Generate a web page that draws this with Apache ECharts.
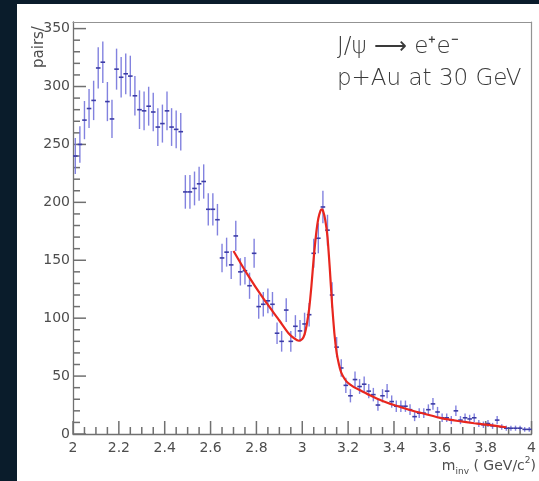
<!DOCTYPE html>
<html>
<head>
<meta charset="utf-8">
<script src="https://cdn.jsdelivr.net/npm/echarts@6/dist/echarts.min.js"></script>
<style>
  html, body { margin: 0; padding: 0; width: 539px; height: 481px; overflow: hidden; background: #0a1c2b; }
  #chart { position: absolute; left: 17px; top: 4px; width: 522px; height: 477px; background: #ffffff; }
</style>
</head>
<body>
<div id="chart"></div>
<script>
// Invariant-mass bin centres (GeV/c^2), bin width 0.02
const massBins = [
  2.01, 2.03, 2.05, 2.07, 2.09, 2.11, 2.13, 2.15, 2.17, 2.19,
  2.21, 2.23, 2.25, 2.27, 2.29, 2.31, 2.33, 2.35, 2.37, 2.39,
  2.41, 2.43, 2.45, 2.47, 2.49, 2.51, 2.53, 2.55, 2.57, 2.59,
  2.61, 2.63, 2.65, 2.67, 2.69, 2.71, 2.73, 2.75, 2.77, 2.79,
  2.81, 2.83, 2.85, 2.87, 2.89, 2.91, 2.93, 2.95, 2.97, 2.99,
  3.01, 3.03, 3.05, 3.07, 3.09, 3.11, 3.13, 3.15, 3.17, 3.19,
  3.21, 3.23, 3.25, 3.27, 3.29, 3.31, 3.33, 3.35, 3.37, 3.39,
  3.41, 3.43, 3.45, 3.47, 3.49, 3.51, 3.53, 3.55, 3.57, 3.59,
  3.61, 3.63, 3.65, 3.67, 3.69, 3.71, 3.73, 3.75, 3.77, 3.79,
  3.81, 3.83, 3.85, 3.87, 3.89, 3.91, 3.93, 3.95, 3.97, 3.99
];

// e+e- pair counts per bin
const pairCounts = [
  240, 250, 271, 281, 288, 316, 321, 287, 272, 315,
  308, 311, 309, 292, 280, 279, 283, 278, 265, 268,
  279, 265, 263, 261, 209, 209, 212, 216, 218, 194,
  194, 185, 152, 157, 146, 171, 140, 141, 128, 156,
  110, 112, 115, 112,  87,  80, 107,  80,  93,  89,
   95, 103, 156, 169, 196, 176, 120,  75,  57,  42,
   33,  47,  41,  43,  37,  34,  25,  33,  37,  28,
   24,  24,  24,  21,  15,  18,  18,  21,  26,  19,
   14,  14,  12,  20,  12,  14,  13,  14,   9,   8,
    9,   7,  12,   6,   5,   5,   5,   5,   4,   4
];

// statistical uncertainty on each bin
const pairErrors = [
  15.5, 15.8, 16.5, 16.8, 17.0, 17.8, 17.9, 16.9, 16.5, 17.7,
  17.5, 17.6, 17.6, 17.1, 16.7, 16.7, 16.8, 16.7, 16.3, 16.4,
  16.7, 16.3, 16.2, 16.2, 14.5, 14.5, 14.6, 14.7, 14.8, 13.9,
  13.9, 13.6, 12.3, 12.5, 12.1, 13.1, 11.8, 11.9, 11.3, 12.5,
  10.5, 10.6, 10.7, 10.6,  9.3,  8.9, 10.3,  8.9,  9.6,  9.4,
   9.7, 10.1, 12.5, 13.0, 14.0, 13.3, 11.0,  8.7,  7.5,  6.5,
   5.7,  6.9,  6.4,  6.6,  6.1,  5.8,  5.0,  5.7,  6.1,  5.3,
   4.9,  4.9,  4.9,  4.6,  3.9,  4.2,  4.2,  4.6,  5.1,  4.4,
   3.7,  3.7,  3.5,  4.5,  3.5,  3.7,  3.6,  3.7,  3.0,  2.8,
   3.0,  2.6,  3.5,  2.4,  2.2,  2.2,  2.2,  2.2,  2.0,  2.0
];
const halfBinWidth = 0.01;

// Fit: background + J/psi peak, sampled along the curve
const fitMass = [
  2.70, 2.76, 2.83, 2.90, 2.94, 2.965, 2.985, 3.00, 3.01, 3.02,
  3.03, 3.04, 3.05, 3.06, 3.07, 3.08, 3.085, 3.09, 3.10, 3.11,
  3.12, 3.13, 3.14, 3.15, 3.16, 3.17, 3.185, 3.20, 3.225, 3.25,
  3.30, 3.35, 3.40, 3.47, 3.54, 3.61, 3.68, 3.75, 3.83, 3.89
];
const fitCounts = [
  158, 138, 117, 98, 87, 82.5, 80.5, 82, 86, 95,
  108, 128, 152, 172, 186, 193, 194, 193, 185, 170,
  143, 112, 87, 70, 60, 53, 47.5, 44, 40.5, 38,
  33, 28.5, 25, 20.7, 17, 13.5, 11.2, 9.3, 7.4, 5.8
];

// Tick positions
const massMajorTicks = [2, 2.2, 2.4, 2.6, 2.8, 3, 3.2, 3.4, 3.6, 3.8, 4];
const massMinorStep = 0.05;
const countMajorTicks = [0, 50, 100, 150, 200, 250, 300, 350];
const countMinorStep = 10;
const massRange = [2, 4];
const countRange = [0, 355.7];

const points = massBins.map((m, i) => [m, pairCounts[i], pairErrors[i]]);
const fitLine = fitMass.map((m, i) => [m, fitCounts[i]]);

// tick records: [mass, count, direction (0 = along mass axis, 1 = along count axis), major flag]
const tickRecords = [];
massMajorTicks.forEach(v => tickRecords.push([v, countRange[0], 0, 1]));
for (let k = 1; massRange[0] + k * massMinorStep < massRange[1] - 1e-9; k++) {
  const v = +(massRange[0] + k * massMinorStep).toFixed(2);
  if (!massMajorTicks.some(t => Math.abs(t - v) < 1e-9)) tickRecords.push([v, countRange[0], 0, 0]);
}
countMajorTicks.forEach(v => tickRecords.push([massRange[0], v, 1, 1]));
for (let v = countMinorStep; v < countRange[1]; v += countMinorStep) {
  if (v % 50 !== 0) tickRecords.push([massRange[0], v, 1, 0]);
}

const axisGrey = '#707070';
const frameGrey = '#939393';
const labelGrey = '#4d4d4d';
const tickFont = 'DejaVu Sans';

const chart = echarts.init(document.getElementById('chart'));

chart.setOption({
  animation: false,
  grid: { left: 56, right: 3, top: 18, bottom: 47, show: false },
  xAxis: [
    {
      type: 'value',
      position: 'bottom',
      min: massRange[0], max: massRange[1], interval: 0.2,
      axisLine: { show: true, onZero: false, lineStyle: { color: axisGrey, width: 1.3 } },
      axisTick: { show: false },
      splitLine: { show: false },
      axisLabel: { show: true, color: labelGrey, fontFamily: tickFont, fontSize: 14, margin: 7 }
    },
    // frame top edge
    {
      type: 'value', position: 'top',
      min: massRange[0], max: massRange[1],
      axisLine: { show: true, onZero: false, lineStyle: { color: frameGrey, width: 1.2 } },
      axisTick: { show: false }, axisLabel: { show: false }, splitLine: { show: false }
    }
  ],
  yAxis: [
    {
      type: 'value',
      position: 'left',
      min: countRange[0], max: countRange[1], interval: 50,
      axisLine: { show: true, onZero: false, lineStyle: { color: axisGrey, width: 1.3 } },
      axisTick: { show: false },
      splitLine: { show: false },
      axisLabel: {
        show: true, color: labelGrey, fontFamily: tickFont, fontSize: 14, margin: 3,
        formatter: v => (Math.abs(v % 50) < 1e-6 ? String(v) : '')
      }
    },
    // frame right edge
    {
      type: 'value', position: 'right',
      min: countRange[0], max: countRange[1],
      axisLine: { show: true, onZero: false, lineStyle: { color: frameGrey, width: 1.2 } },
      axisTick: { show: false }, axisLabel: { show: false }, splitLine: { show: false }
    }
  ],
  graphic: [
    {
      type: 'text',
      left: 320, top: 27,
      style: {
        text: 'J/ψ ⟶ e⁺e⁻\np+Au at 30 GeV',
        font: '200 23px "DejaVu Sans"',
        fill: '#3a3a3a',
        lineHeight: 32
      }
    },
    {
      type: 'text',
      right: 3, top: 449,
      style: {
        text: '{m|m}{s|inv}{t| ( GeV/c}{p|2}{t|)}',
        rich: {
          m: { fontFamily: tickFont, fontSize: 14, fill: labelGrey, lineHeight: 20, verticalAlign: 'bottom' },
          s: { fontFamily: tickFont, fontSize: 9, fill: labelGrey, lineHeight: 20, verticalAlign: 'bottom', padding: [0, 0, -3, 0] },
          t: { fontFamily: tickFont, fontSize: 14, fill: labelGrey, lineHeight: 20, verticalAlign: 'bottom' },
          p: { fontFamily: tickFont, fontSize: 9, fill: labelGrey, lineHeight: 20, verticalAlign: 'top', padding: [3, 0, 0, 0] }
        }
      }
    },
    {
      type: 'text',
      x: 22, y: 64,
      rotation: Math.PI / 2,
      style: {
        text: 'pairs/',
        font: '15px "DejaVu Sans"',
        fill: labelGrey,
        textAlign: 'left',
        textVerticalAlign: 'middle'
      }
    }
  ],
  series: [
    {
      // inward tick marks on the mass and count axes
      type: 'custom',
      name: 'ticks',
      xAxisIndex: 0, yAxisIndex: 0,
      data: tickRecords,
      encode: { x: 0, y: 1 },
      clip: false,
      silent: true,
      renderItem: function (params, api) {
        const p = api.coord([api.value(0), api.value(1)]);
        const len = api.value(3) ? 13 : 7;
        const alongMass = api.value(2) === 0;
        const shape = alongMass
          ? { x1: p[0], y1: p[1], x2: p[0], y2: p[1] - len }
          : { x1: p[0], y1: p[1], x2: p[0] + len, y2: p[1] };
        return { type: 'line', shape: shape, style: { stroke: axisGrey, lineWidth: 1.5 } };
      },
      z: 1
    },
    {
      type: 'custom',
      name: 'data',
      xAxisIndex: 0, yAxisIndex: 0,
      data: points,
      encode: { x: 0, y: 1 },
      clip: false,
      renderItem: function (params, api) {
        const m = api.value(0), c = api.value(1), e = api.value(2);
        const top = api.coord([m, c + e]);
        const bot = api.coord([m, Math.max(0, c - e)]);
        const lft = api.coord([m - halfBinWidth, c]);
        const rgt = api.coord([m + halfBinWidth, c]);
        return {
          type: 'group',
          children: [
            { type: 'line', shape: { x1: top[0], y1: top[1], x2: bot[0], y2: bot[1] },
              style: { stroke: '#7474dc', lineWidth: 1.4, opacity: 0.9 } },
            { type: 'line', shape: { x1: lft[0], y1: lft[1], x2: rgt[0], y2: rgt[1] },
              style: { stroke: '#3c3ca6', lineWidth: 1.6 } }
          ]
        };
      },
      z: 2
    },
    {
      type: 'line',
      name: 'fit',
      xAxisIndex: 0, yAxisIndex: 0,
      data: fitLine,
      smooth: 0.2,
      showSymbol: false,
      symbol: 'none',
      lineStyle: { color: '#e8261e', width: 2.2 },
      z: 3
    }
  ]
});
</script>
</body>
</html>
